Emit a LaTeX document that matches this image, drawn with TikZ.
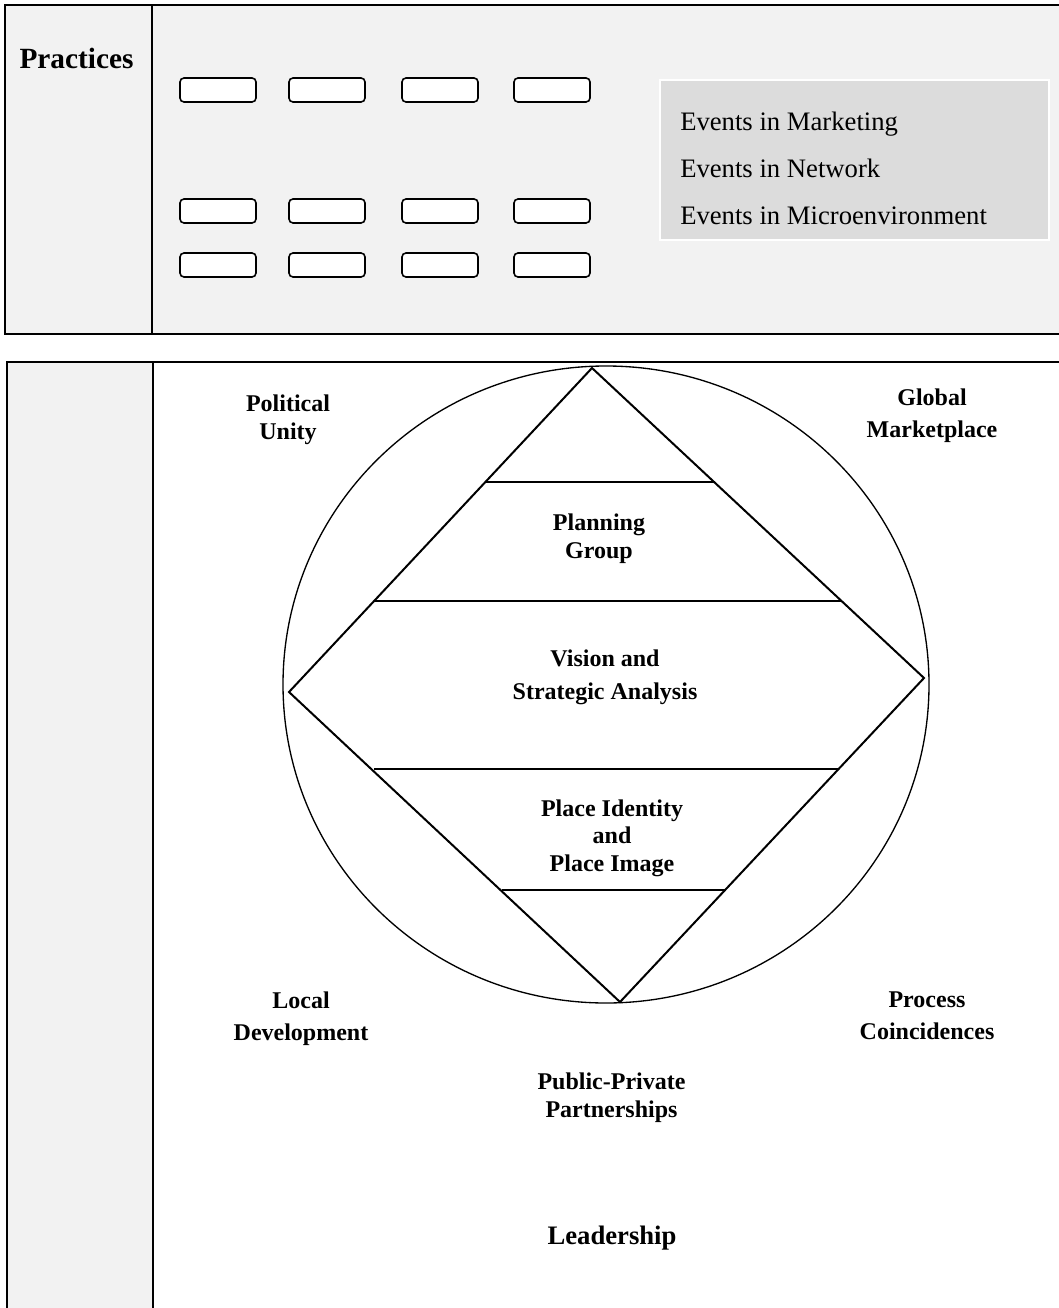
\documentclass[tikz,border=0pt]{standalone}
\usepackage{fontspec}
\setmainfont{Liberation Serif}
\usepackage{tikz}
\definecolor{panelgrey}{RGB}{242,242,242}
\definecolor{boxgrey}{RGB}{220,220,220}
\tikzset{
  practice/.style={draw, line width=1.2pt, fill=white, rounded corners=3pt, minimum width=57pt, minimum height=18pt, inner sep=0pt},
  ringtext/.style={inner sep=0pt, align=center, font=\fontsize{18}{21}\selectfont\bfseries},
  frame/.style={line width=1.5pt}
}
\begin{document}
\begin{tikzpicture}[x=0.75pt,y=0.75pt,yscale=-1,xscale=1]
\useasboundingbox (0,0) rectangle (1058,1308);

%Shape: Rectangle (upper panel)
\draw [frame, fill=panelgrey]  (1062,5) -- (5,5) -- (5,334) -- (1062,334) ;
\draw [frame]  (152,5) -- (152,334) ;
% Text Node
\draw (76.5,68.5) node [anchor=base] [inner sep=0pt] (practices) {\fontsize{22}{26}\selectfont\bfseries Practices};

%Shape: Rounded Rectangles
\node [practice] (box11) at (218,90) {};
\node [practice] (box12) at (327,90) {};
\node [practice] (box13) at (440,90) {};
\node [practice] (box14) at (552,90) {};
\node [practice] (box21) at (218,211) {};
\node [practice] (box22) at (327,211) {};
\node [practice] (box23) at (440,211) {};
\node [practice] (box24) at (552,211) {};
\node [practice] (box31) at (218,265) {};
\node [practice] (box32) at (327,265) {};
\node [practice] (box33) at (440,265) {};
\node [practice] (box34) at (552,265) {};

%Shape: Rectangle (events)
\draw [draw=white, line width=0.8pt, fill=boxgrey]  (660,80) rectangle (1049,240) ;
% Text Node
\draw (680,168) node [anchor=west] [inner sep=0pt, align=left, font=\fontsize{20}{35.25}\selectfont] (events) {Events in Marketing\\Events in Network\\Events in Microenvironment};

%Shape: Rectangle (lower panel)
\fill [panelgrey]  (7,362) rectangle (153,1312) ;
\draw [frame]  (1062,362) -- (7,362) -- (7,1312) ;
\draw [frame]  (153,362) -- (153,1312) ;

%Shape: Ellipse
\draw [line width=1pt]  (606,684.5) ellipse [x radius=323, y radius=318.5] ;

%Shape: Diamond
\coordinate (apex) at (592,368) ;
\coordinate (east) at (924,678) ;
\coordinate (foot) at (620,1002) ;
\coordinate (west) at (289,692) ;
\draw [line width=1.5pt, line join=miter]  (apex) -- (east) -- (foot) -- (west) -- cycle ;
%Straight Lines
\draw [line width=1.1pt]  (486,482) -- (714,482) ;
\draw [line width=1.1pt]  (374,601) -- (842,601) ;
\draw [line width=1.1pt]  (374,769) -- (839,769) ;
\draw [line width=1.1pt]  (502,890) -- (726,890) ;

% Text Node
\draw (288,420) node [ringtext] (political) {Political\\Unity};
% Text Node
\draw (932,415.5) node [ringtext] (global) {Global\\[3pt]Marketplace};
% Text Node
\draw (599,539) node [ringtext] (planning) {Planning\\Group};
% Text Node
\draw (605,677) node [ringtext] (vision) {Vision and\\[3.5pt]Strategic Analysis};
% Text Node
\draw (612,838) node [ringtext] (identity) {Place Identity\\[-0.5pt]and\\[-0.5pt]Place Image};
% Text Node
\draw (301,1018.5) node [ringtext] (local) {Local\\[3pt]Development};
% Text Node
\draw (927,1016) node [ringtext] (process) {Process\\[3pt]Coincidences};
% Text Node
\draw (611.5,1097.5) node [ringtext] (partners) {Public-Private\\Partnerships};
% Text Node
\draw (612,1244) node [anchor=base] [inner sep=0pt] (leadership) {\fontsize{20}{24}\selectfont\bfseries Leadership};

\end{tikzpicture}
\end{document}
